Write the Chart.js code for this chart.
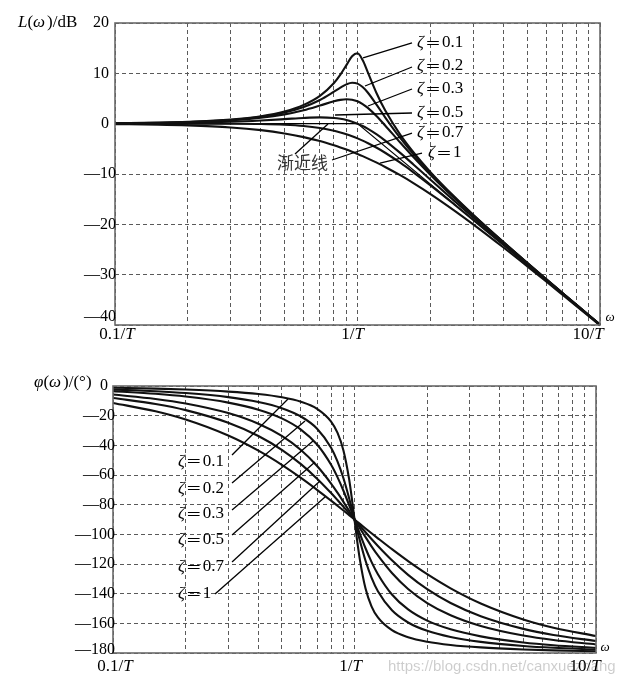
<!DOCTYPE html>
<html><head><meta charset="utf-8">
<script src="https://cdn.jsdelivr.net/npm/chart.js@4.4.1/dist/chart.umd.min.js"></script>
<style>
html,body{margin:0;padding:0;background:#fff;}
#wrap{position:relative;width:635px;height:688px;overflow:hidden;}
canvas{position:absolute;left:0;}
</style></head><body>
<div id="wrap">
<canvas id="mag" width="635" height="345" style="top:0"></canvas>
<canvas id="pha" width="635" height="343" style="top:345px"></canvas>
</div>
<script>
// ---------- data ----------
const dampingRatios = ['0.1', '0.2', '0.3', '0.5', '0.7', '1'];

// magnitude plot: frequency (units of 1/T) and L(ω) in dB
const magFreq = [0.1,0.15,0.2,0.3,0.4,0.5,0.6,0.7,0.8,0.85,0.9,0.95,1,1.05,1.1,1.2,1.3,1.5,1.7,2,2.5,3,4,5,6,7,8,10];
const magZeta01 = [0.09,0.19,0.35,0.80,1.47,2.42,3.73,5.53,8.09,9.75,11.64,13.41,13.98,12.63,10.34,6.00,2.65,-2.18,-5.67,-9.62,-14.44,-18.09,-23.53,-27.61,-30.89,-33.63,-35.99,-39.91];
const magZeta02 = [0.08,0.18,0.32,0.74,1.36,2.20,3.31,4.70,6.35,7.15,7.81,8.13,7.96,7.28,6.24,3.73,1.27,-2.84,-6.06,-9.84,-14.56,-18.16,-23.57,-27.63,-30.90,-33.64,-36.00,-39.92];
const magZeta03 = [0.07,0.16,0.29,0.65,1.17,1.85,2.68,3.60,4.44,4.72,4.85,4.76,4.44,3.90,3.19,1.48,-0.35,-3.75,-6.64,-10.19,-14.74,-18.28,-23.63,-27.67,-30.93,-33.66,-36.01,-39.93];
const magZeta05 = [0.04,0.10,0.17,0.37,0.63,0.90,1.14,1.25,1.14,0.97,0.73,0.40,0.00,-0.46,-0.98,-2.13,-3.36,-5.81,-8.10,-11.14,-15.29,-18.63,-23.82,-27.79,-31.01,-33.72,-36.06,-39.96];
const magZeta07 = [0.00,0.00,0.00,-0.02,-0.08,-0.22,-0.47,-0.87,-1.41,-1.74,-2.11,-2.50,-2.92,-3.37,-3.83,-4.79,-5.78,-7.76,-9.66,-12.26,-16.00,-19.12,-24.09,-27.96,-31.12,-33.80,-36.12,-40.00];
const magZeta10 = [-0.09,-0.19,-0.34,-0.75,-1.29,-1.94,-2.67,-3.46,-4.30,-4.72,-5.15,-5.59,-6.02,-6.45,-6.89,-7.75,-8.60,-10.24,-11.80,-13.98,-17.21,-20.00,-24.61,-28.30,-31.36,-33.98,-36.26,-40.09];
// asymptote (渐近线)
const asymFreq = [0.1, 1, 10];
const asymDb = [0, 0, -40];

// phase plot: frequency and φ(ω) in degrees
const phaseFreq = [0.1,0.15,0.2,0.3,0.4,0.5,0.6,0.7,0.8,0.85,0.9,0.95,0.98,1,1.02,1.053,1.111,1.176,1.25,1.429,1.667,2,2.5,3.333,5,6.667,10];
const phaseZeta01 = [-1.16,-1.76,-2.39,-3.77,-5.44,-7.60,-10.62,-15.35,-23.96,-31.49,-43.45,-62.83,-78.58,-90,-101.42,-117.17,-136.55,-148.51,-156.04,-164.65,-169.38,-172.40,-174.56,-176.23,-177.61,-178.24,-178.84];
const phaseZeta02 = [-2.31,-3.51,-4.76,-7.51,-10.78,-14.93,-20.56,-28.77,-41.63,-50.78,-62.18,-75.61,-84.23,-90,-95.77,-104.39,-117.82,-129.22,-138.37,-151.23,-159.44,-165.07,-169.22,-172.49,-175.24,-176.49,-177.69];
const phaseZeta03 = [-3.47,-5.26,-7.13,-11.19,-15.95,-21.80,-29.36,-39.47,-53.13,-61.45,-70.62,-80.29,-86.15,-90,-93.85,-99.71,-109.38,-118.55,-126.87,-140.53,-150.64,-158.20,-164.05,-168.81,-172.87,-174.74,-176.53];
const phaseZeta05 = [-5.77,-8.72,-11.77,-18.25,-25.46,-33.69,-43.15,-53.93,-65.77,-71.92,-78.08,-84.14,-87.69,-90,-92.31,-95.86,-101.92,-108.08,-114.23,-126.07,-136.85,-146.31,-154.54,-161.75,-168.23,-171.28,-174.23];
const phaseZeta07 = [-8.05,-12.13,-16.26,-24.78,-33.69,-43.03,-52.70,-62.51,-72.18,-76.87,-81.42,-85.81,-88.35,-90,-91.65,-94.19,-98.58,-103.13,-107.82,-117.49,-127.30,-136.97,-146.31,-155.22,-163.74,-167.87,-171.95];
const phaseZeta10 = [-11.42,-17.06,-22.62,-33.40,-43.60,-53.13,-61.93,-69.98,-77.32,-80.73,-83.97,-87.06,-88.84,-90,-91.16,-92.94,-96.03,-99.27,-102.68,-110.02,-118.07,-126.87,-136.40,-146.60,-157.38,-162.94,-168.58];

// axes
const gridFreq = [0.1,0.2,0.3,0.4,0.5,0.6,0.7,0.8,0.9,1,2,3,4,5,6,7,8,9,10];
const freqTickValues = [0.1, 1, 10];
const freqTickText = ['0.1/', '1/', '10/'];
const magTicks = [20, 10, 0, -10, -20, -30, -40];
const phaseTicks = [0, -20, -40, -60, -80, -100, -120, -140, -160, -180];

// annotation anchors (data coordinates): label point and leader line [from x,y, to x,y]
const magLabelAnchor = [[1.76,16.03],[1.76,11.46],[1.76,6.89],[1.76,2.12],[1.76,-1.86],[1.953,-5.83]];
const magLeaders = [[1.054,13.05,1.678,16.03],[1.074,7.48,1.678,11.26],[1.105,3.51,1.678,6.89],[0.808,1.72,1.678,2.12],[0.785,-7.22,1.678,-1.86],[1.238,-7.82,1.845,-5.83]];
const asymLabelAnchor = [0.4656, -7.82];
const asymLeader = [0.5525, -6.03, 0.7556, -0.07];
const phaseLabelAnchor = [[0.1858,-50.6],[0.1858,-68.8],[0.1858,-86.3],[0.1858,-103.8],[0.1858,-122.0],[0.1858,-140.2]];
const phaseLeaders = [[0.3111,-46.5,0.5304,-8.8],[0.3111,-65.4,0.6237,-23.6],[0.3111,-83.6,0.6732,-37.1],[0.3111,-100.5,0.6861,-51.2],[0.3111,-118.7,0.7196,-64.0],[0.2645,-140.2,0.7549,-74.8]];

// ---------- drawing ----------
const SERIF = '"Liberation Serif","Times New Roman",serif';
const zip = (xs, ys) => xs.map((x, i) => ({x, y: ys[i]}));

function fontOf(p, size) {
  return p[3] ? p[3] : (p[1] ? 'italic ' : '') + size + 'px ' + SERIF;
}
function rich(ctx, parts, x, y, size, align) {
  let w = 0;
  parts.forEach(p => { ctx.font = fontOf(p, size); w += ctx.measureText(p[0]).width + (p[2] || 0); });
  let cx = align === 'center' ? x - w / 2 : align === 'right' ? x - w : x;
  ctx.textAlign = 'left'; ctx.textBaseline = 'middle';
  parts.forEach(p => {
    ctx.font = fontOf(p, size);
    ctx.fillText(p[0], cx, y);
    cx += ctx.measureText(p[0]).width + (p[2] || 0);
  });
}
function dashLabel(v) { return v < 0 ? '\u2014' + (-v) : String(v); }

function curve(data, width) {
  return {data, borderColor: '#111', borderWidth: width, pointRadius: 0,
          cubicInterpolationMode: 'monotone', fill: false, clip: 4};
}

function baseScales(yMin, yMax, yWidth, yTicks) {
  return {
    x: {type: 'logarithmic', min: 0.1, max: 10,
        ticks: {display: false},
        grid: {color: '#5a5a5a', lineWidth: 1, drawTicks: false},
        border: {display: false, dash: [4, 3]},
        afterBuildTicks: s => { s.ticks = gridFreq.map(v => ({value: v})); },
        afterFit: s => { s.height = 0; }},
    y: {type: 'linear', min: yMin, max: yMax,
        ticks: {display: false},
        grid: {color: '#5a5a5a', lineWidth: 1, drawTicks: false},
        border: {display: false, dash: [4, 3]},
        afterBuildTicks: s => { s.ticks = yTicks.map(v => ({value: v})); },
        afterFit: s => { s.width = yWidth; }}
  };
}

function drawFrame(ctx, a) {
  ctx.save();
  ctx.strokeStyle = '#6a6a6a'; ctx.lineWidth = 1.6;
  ctx.strokeRect(a.left, a.top, a.right - a.left, a.bottom - a.top);
  ctx.restore();
}
function line(ctx, sx, sy, p) {
  ctx.beginPath();
  ctx.moveTo(sx.getPixelForValue(p[0]), sy.getPixelForValue(p[1]));
  ctx.lineTo(sx.getPixelForValue(p[2]), sy.getPixelForValue(p[3]));
  ctx.stroke();
}
function zetaLabel(ctx, x, y, txt) {
  rich(ctx, [['\u03B6', true, 1], ['\uFF1D', false, 1, '16px "Noto Sans CJK SC"'], [txt, false]], x, y, 17, 'left');
}

const magPlugin = {
  id: 'magText',
  afterDraw(chart) {
    const ctx = chart.ctx, a = chart.chartArea, sx = chart.scales.x, sy = chart.scales.y;
    drawFrame(ctx, a);
    ctx.save();
    ctx.fillStyle = '#000';
    magTicks.forEach(v => {
      let y = sy.getPixelForValue(v);
      if (v === -40) y -= 8;
      ctx.font = '16px ' + SERIF; ctx.textAlign = 'right'; ctx.textBaseline = 'middle';
      ctx.fillText(dashLabel(v), v < 0 ? a.left + 1 : a.left - 6, y);
    });
    const off = [2, -5, -12];
    freqTickValues.forEach((v, i) => {
      rich(ctx, [[freqTickText[i], false], ['T', true]], sx.getPixelForValue(v) + off[i], a.bottom + 10, 17, 'center');
    });
    rich(ctx, [['\u03C9', true]], a.right + 10, a.bottom - 7, 13, 'center');
    rich(ctx, [['L', true], ['(', false], ['\u03C9', true, 2], [')/dB', false]], 18, a.top, 17, 'left');
    // leaders
    ctx.strokeStyle = '#000'; ctx.lineWidth = 1.3;
    magLeaders.forEach(p => line(ctx, sx, sy, p));
    line(ctx, sx, sy, asymLeader);
    dampingRatios.forEach((t, i) => {
      zetaLabel(ctx, sx.getPixelForValue(magLabelAnchor[i][0]), sy.getPixelForValue(magLabelAnchor[i][1]), t);
    });
    ctx.fillStyle = '#333';
    ctx.font = '17px "Noto Sans CJK SC"'; ctx.textAlign = 'left'; ctx.textBaseline = 'middle';
    ctx.fillText('渐近线', sx.getPixelForValue(asymLabelAnchor[0]), sy.getPixelForValue(asymLabelAnchor[1]));
    ctx.restore();
  }
};

const phasePlugin = {
  id: 'phaseText',
  beforeDraw(chart) {
    const ctx = chart.ctx;
    ctx.save();
    ctx.fillStyle = 'rgba(0,0,0,0.2)';
    ctx.font = '15px "Liberation Sans", Arial, sans-serif';
    ctx.textAlign = 'left'; ctx.textBaseline = 'middle';
    ctx.fillText('https://blog.csdn.net/canxuezhang', 388, 322);
    ctx.restore();
  },
  afterDraw(chart) {
    const ctx = chart.ctx, a = chart.chartArea, sx = chart.scales.x, sy = chart.scales.y;
    drawFrame(ctx, a);
    ctx.save();
    ctx.fillStyle = '#000';
    phaseTicks.forEach(v => {
      let y = sy.getPixelForValue(v);
      if (v === -180) y -= 3;
      ctx.font = '16px ' + SERIF; ctx.textAlign = 'right'; ctx.textBaseline = 'middle';
      ctx.fillText(dashLabel(v), v < 0 ? a.left + 2 : a.left - 5, y);
    });
    const off = [2, -4, -11];
    freqTickValues.forEach((v, i) => {
      rich(ctx, [[freqTickText[i], false], ['T', true]], sx.getPixelForValue(v) + off[i], a.bottom + 14, 17, 'center');
    });
    rich(ctx, [['\u03C9', true]], a.right + 9, a.bottom - 5, 13, 'center');
    rich(ctx, [['\u03C6', true], ['(', false], ['\u03C9', true, 2], [')/(\u00B0)', false]], 34, a.top - 3, 17, 'left');
    ctx.strokeStyle = '#000'; ctx.lineWidth = 1.3;
    phaseLeaders.forEach(p => line(ctx, sx, sy, p));
    dampingRatios.forEach((t, i) => {
      zetaLabel(ctx, sx.getPixelForValue(phaseLabelAnchor[i][0]), sy.getPixelForValue(phaseLabelAnchor[i][1]), t);
    });
    ctx.restore();
  }
};

const common = {
  responsive: false, animation: false, devicePixelRatio: 1,
  plugins: {legend: {display: false}, tooltip: {enabled: false}},
  parsing: true, normalized: false
};

new Chart(document.getElementById('mag'), {
  type: 'line',
  data: {datasets: [
    curve(zip(magFreq, magZeta01), 2.1),
    curve(zip(magFreq, magZeta02), 2.1),
    curve(zip(magFreq, magZeta03), 2.1),
    curve(zip(magFreq, magZeta05), 2.1),
    curve(zip(magFreq, magZeta07), 2.1),
    curve(zip(magFreq, magZeta10), 2.1),
    {data: zip(asymFreq, asymDb), borderColor: '#000', borderWidth: 1.1, pointRadius: 0, tension: 0, fill: false}
  ]},
  options: Object.assign({}, common, {
    layout: {padding: {left: 0, right: 35, top: 23, bottom: 20}},
    scales: baseScales(-40, 20, 115, magTicks)
  }),
  plugins: [magPlugin]
});

new Chart(document.getElementById('pha'), {
  type: 'line',
  data: {datasets: [
    curve(zip(phaseFreq, phaseZeta01), 2.1),
    curve(zip(phaseFreq, phaseZeta02), 2.1),
    curve(zip(phaseFreq, phaseZeta03), 2.1),
    curve(zip(phaseFreq, phaseZeta05), 2.1),
    curve(zip(phaseFreq, phaseZeta07), 2.1),
    curve(zip(phaseFreq, phaseZeta10), 2.1)
  ]},
  options: Object.assign({}, common, {
    layout: {padding: {left: 0, right: 39, top: 41, bottom: 35}},
    scales: baseScales(-180, 0, 113, phaseTicks)
  }),
  plugins: [phasePlugin]
});
</script>
</body></html>
